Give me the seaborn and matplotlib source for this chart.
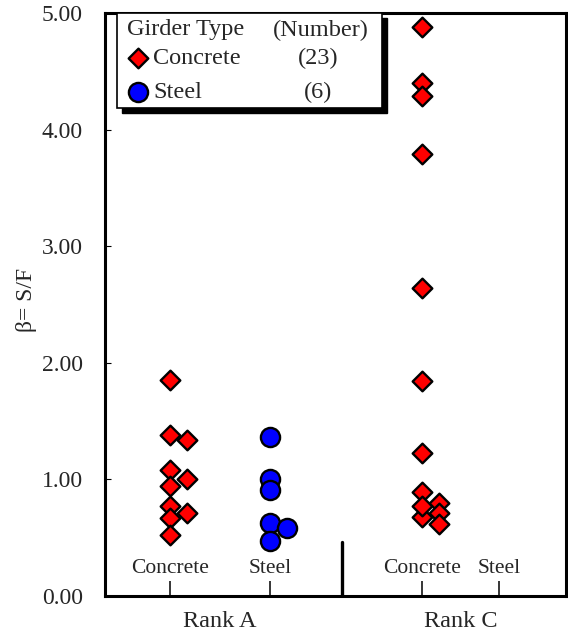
import numpy as np
import pandas as pd
import matplotlib
matplotlib.use("Agg")
import matplotlib.pyplot as plt
import seaborn as sns
from matplotlib.patches import Rectangle

# ---------------- data ----------------
ranks = ["Rank A", "Rank C"]
materials = ["Concrete", "Steel"]
rankA_concrete = [1.85, 1.38, 1.34, 1.08, 1.00, 0.94, 0.77, 0.71, 0.67, 0.52]
rankA_steel = [1.36, 1.00, 0.91, 0.63, 0.58, 0.47]
rankC_concrete = [4.88, 4.40, 4.29, 3.79, 2.64, 1.84, 1.23, 0.89, 0.68, 0.77, 0.80, 0.71, 0.62]
rankC_steel = []
y_ticks = [0, 1, 2, 3, 4, 5]
y_label = "β= S/F"
legend_title = "Girder Type"
legend_count_title = "(Number)"

# ---------------- layout (not data) ----------------
base_x = {("Rank A", "Concrete"): 0.0, ("Rank A", "Steel"): 1.0,
          ("Rank C", "Concrete"): 2.52, ("Rank C", "Steel"): 3.29}
rank_center = {"Rank A": 0.5, "Rank C": 2.91}
divider_x = 1.72
nudge = 0.17
thresh = 0.085

groups = {("Rank A", "Concrete"): rankA_concrete, ("Rank A", "Steel"): rankA_steel,
          ("Rank C", "Concrete"): rankC_concrete, ("Rank C", "Steel"): rankC_steel}

rows = []
for (rk, mat), vals in groups.items():
    col0 = []
    for v in vals:
        if any(abs(v - c) < thresh for c in col0):
            off = nudge
        else:
            off = 0.0
            col0.append(v)
        rows.append({"rank": rk, "material": mat, "beta": v,
                     "xpos": base_x[(rk, mat)] + off})
df = pd.DataFrame(rows)

sns.set_theme(style="white")
plt.rcParams["font.family"] = ["Liberation Serif", "DejaVu Serif"]

W, H = 568, 632
fig = plt.figure(figsize=(W / 100, H / 100), dpi=100)
L, R, B, T = 105, 566, 596, 13
ax = fig.add_axes([L / W, 1 - B / H, (R - L) / W, (B - T) / H])

red = "#FF0000"
blue = "#0000FF"
conc = df[df.material == "Concrete"]
steel = df[df.material == "Steel"]
sns.scatterplot(data=conc, x="xpos", y="beta", marker="D", color=red, s=100,
                edgecolor="black", linewidth=1.7, ax=ax, legend=False, zorder=3)
sns.scatterplot(data=steel, x="xpos", y="beta", marker="o", color=blue, s=190,
                edgecolor="black", linewidth=1.7, ax=ax, legend=False, zorder=3)

ax.set_xlim(-0.65, 3.96)
ax.set_ylim(0, 5)
ax.set_yticks(y_ticks)
ax.set_yticklabels([f"{t:.2f}" for t in y_ticks], fontsize=17)
ax.set_xticks([base_x[k] for k in base_x])
ax.set_xticklabels([])
ax.set_xticks([rank_center[r] for r in ranks], minor=True)
ax.set_xticklabels(ranks, minor=True, fontsize=17.5)
ax.tick_params(axis="x", which="major", direction="in", length=11, width=1.1,
               color="black", bottom=True, top=False)
ax.tick_params(axis="x", which="minor", length=0, pad=11)
ax.tick_params(axis="y", direction="in", length=4.5, width=0.8, color="black",
               left=True, right=False, pad=16)
ax.set_xlabel("")
ax.set_ylabel(y_label, fontsize=17)
ax.yaxis.set_label_coords((37 - L) / (R - L), (B - 300) / (B - T))
for sp in ax.spines.values():
    sp.set_linewidth(2.2)
    sp.set_color("black")

# category labels inside the plot
for (rk, mat), x in base_x.items():
    ax.text(x, 0.24, mat, ha="center", va="center", fontsize=15.5)

# divider
ax.axvline(divider_x, ymin=0, ymax=0.093, color="black", linewidth=2.4)

# legend box with shadow
def fx(px):
    return (px - L) / (R - L)

def fy(py):
    return (B - py) / (B - T)

bx0, bx1, by0, by1 = 117, 382, 13, 108
sh = 5
ax.add_patch(Rectangle((fx(bx0 + sh), fy(by1 + sh)), fx(bx1) - fx(bx0), fy(by0) - fy(by1),
                       transform=ax.transAxes, facecolor="black", edgecolor="black",
                       zorder=5, clip_on=False))
ax.add_patch(Rectangle((fx(bx0), fy(by1)), fx(bx1) - fx(bx0), fy(by0) - fy(by1),
                       transform=ax.transAxes, facecolor="white", edgecolor="black",
                       linewidth=1.2, zorder=6, clip_on=False))
fs_leg = 17.5
ax.text(fx(127), fy(30), legend_title, transform=ax.transAxes, fontsize=fs_leg,
        ha="left", va="center", zorder=7)
ax.text(fx(273), fy(30), legend_count_title, transform=ax.transAxes, fontsize=fs_leg,
        ha="left", va="center", zorder=7)
ax.scatter([fx(138)], [fy(58)], marker="D", s=100, color=red, edgecolor="black",
           linewidth=1.7, transform=ax.transAxes, zorder=8, clip_on=False)
ax.scatter([fx(138)], [fy(92)], marker="o", s=190, color=blue, edgecolor="black",
           linewidth=1.7, transform=ax.transAxes, zorder=8, clip_on=False)
counts = {"Concrete": len(rankA_concrete) + len(rankC_concrete),
          "Steel": len(rankA_steel) + len(rankC_steel)}
for mat, py in zip(materials, [58, 92]):
    ax.text(fx(153), fy(py), mat, transform=ax.transAxes, fontsize=fs_leg,
            ha="left", va="center", zorder=7)
    ax.text(fx(318), fy(py), f"({counts[mat]})", transform=ax.transAxes, fontsize=fs_leg,
            ha="center", va="center", zorder=7)

fig.savefig("out.png", dpi=100)
